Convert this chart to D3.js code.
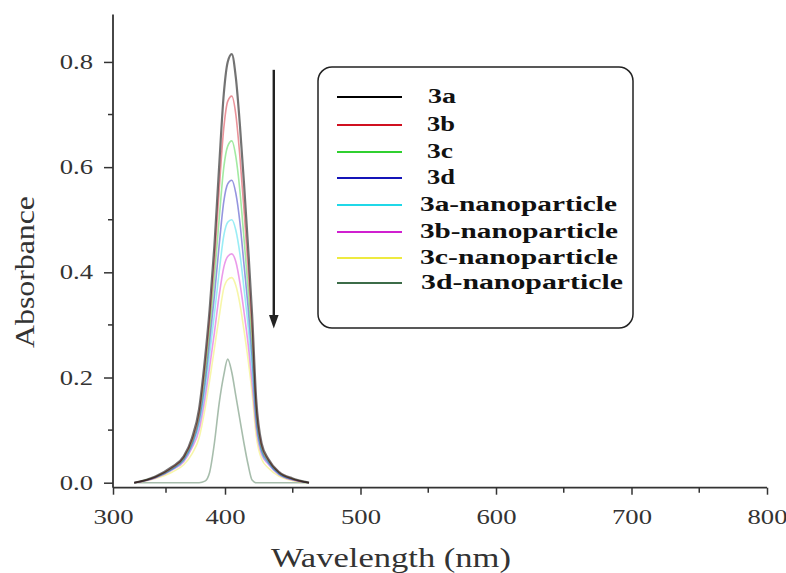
<!DOCTYPE html>
<html>
<head>
<meta charset="utf-8">
<script src="https://cdn.jsdelivr.net/npm/d3@7"></script>
<style>
  body { margin: 0; background: #fff; }
  svg { display: block; }
  text { font-family: "Liberation Serif", "Times New Roman", serif; }
</style>
</head>
<body>
<div id="chart"></div>
<script>
// wavelength grid (nm) shared by all spectra
var wavelength = [320, 340, 355, 365, 372, 378, 383, 387, 391, 395, 399, 402, 405, 408, 411, 414, 417, 420, 423, 427, 432, 440, 450, 462];

// absorbance
var abs3a  = [0, 0.012, 0.030, 0.050, 0.085, 0.140, 0.235, 0.330, 0.450, 0.600, 0.740, 0.800, 0.815, 0.770, 0.680, 0.570, 0.450, 0.320, 0.160, 0.075, 0.045, 0.020, 0.008, 0];
var abs3b  = [0, 0.011, 0.028, 0.048, 0.080, 0.130, 0.220, 0.310, 0.420, 0.555, 0.675, 0.725, 0.735, 0.700, 0.620, 0.520, 0.410, 0.290, 0.145, 0.070, 0.043, 0.019, 0.007, 0];
var abs3c  = [0, 0.011, 0.027, 0.046, 0.077, 0.125, 0.205, 0.290, 0.390, 0.500, 0.600, 0.640, 0.650, 0.620, 0.555, 0.465, 0.370, 0.265, 0.135, 0.066, 0.041, 0.018, 0.007, 0];
var abs3d  = [0, 0.010, 0.026, 0.044, 0.073, 0.118, 0.190, 0.270, 0.355, 0.450, 0.535, 0.568, 0.575, 0.550, 0.495, 0.415, 0.335, 0.240, 0.125, 0.062, 0.039, 0.017, 0.006, 0];
var abs3aN = [0, 0.010, 0.025, 0.042, 0.070, 0.110, 0.175, 0.245, 0.320, 0.400, 0.470, 0.495, 0.500, 0.480, 0.435, 0.370, 0.300, 0.215, 0.115, 0.058, 0.037, 0.016, 0.006, 0];
var abs3bN = [0, 0.009, 0.024, 0.040, 0.066, 0.100, 0.160, 0.220, 0.285, 0.355, 0.410, 0.430, 0.435, 0.420, 0.380, 0.325, 0.265, 0.190, 0.105, 0.054, 0.035, 0.015, 0.005, 0];
var abs3cN = [0, 0.008, 0.020, 0.034, 0.055, 0.085, 0.140, 0.195, 0.255, 0.315, 0.370, 0.386, 0.390, 0.375, 0.340, 0.290, 0.235, 0.170, 0.090, 0.045, 0.028, 0.012, 0.004, 0];
var abs3dN = [0, 0, 0, 0, 0, 0, 0.003, 0.020, 0.075, 0.150, 0.205, 0.235, 0.210, 0.165, 0.120, 0.075, 0.035, 0.005, 0, 0, 0, 0, 0, 0];

var seriesNames = ["3a", "3b", "3c", "3d", "3a-nanoparticle", "3b-nanoparticle", "3c-nanoparticle", "3d-nanoparticle"];
var seriesColors = ["#000000", "#d01020", "#30d030", "#1414b8", "#20d8e8", "#d020d0", "#eeea40", "#3c6c48"];
var seriesValues = [abs3a, abs3b, abs3c, abs3d, abs3aN, abs3bN, abs3cN, abs3dN];

var xMajor = [300, 400, 500, 600, 700, 800];
var xMinor = [350, 450, 550, 650, 750];
var yMajor = [0, 0.2, 0.4, 0.6, 0.8];
var yMinor = [0.1, 0.3, 0.5, 0.7];

var w = 786, h = 573;

var svg = d3.select("#chart").append("svg")
    .attr("width", w)
    .attr("height", h)

// the printed axis is not evenly spaced below 400 nm
var x = d3.scaleLinear().domain([300, 350, 400, 800]).range([113, 166, 225, 767]);
var y = d3.scaleLinear().domain([-0.0095, 0.89]).range([487.7, 14.6]);

var axisColor = "#333";

// curves
var line = d3.line()
    .x(function(d){ return x(d[0]) })
    .y(function(d){ return y(d[1]) })
    .curve(d3.curveMonotoneX);

for (var k = seriesValues.length - 1; k >= 0; k--){
    var pts = wavelength.map(function(wl, i){ return [wl, seriesValues[k][i]] });
    svg.append("path")
        .datum(pts)
        .attr("d", line)
        .attr("fill", "none")
        .attr("stroke", seriesColors[k])
        .attr("stroke-opacity", k == 0 ? 0.55 : 0.45)
        .attr("stroke-width", k == 0 ? 2.2 : 1.6);
}

// x axis
var xAxis = svg.append("g")
    .attr("transform", "translate(0," + y(-0.0095) + ")")
    .call(d3.axisBottom(x).tickValues(xMajor).tickSize(7).tickPadding(15).tickFormat(d3.format("d")));
xAxis.append("g").selectAll("line").data(xMinor).enter().append("line")
    .attr("x1", function(d){ return x(d) }).attr("x2", function(d){ return x(d) })
    .attr("y1", 0).attr("y2", 5)
    .attr("stroke", axisColor).attr("stroke-width", 1.5);

// y axis
var yAxis = svg.append("g")
    .attr("transform", "translate(" + x(300) + ",0)")
    .call(d3.axisLeft(y).tickValues(yMajor).tickSize(9).tickPadding(11).tickFormat(d3.format(".1f")));
yAxis.append("g").selectAll("line").data(yMinor).enter().append("line")
    .attr("y1", function(d){ return y(d) }).attr("y2", function(d){ return y(d) })
    .attr("x1", 0).attr("x2", -5)
    .attr("stroke", axisColor).attr("stroke-width", 1.5);

svg.selectAll(".domain").attr("stroke", axisColor).attr("stroke-width", 1.8);
svg.selectAll(".tick line").attr("stroke", axisColor).attr("stroke-width", 1.5);
svg.selectAll(".tick text")
    .attr("font-size", 20.5)
    .attr("fill", "#333")
    .each(function(){
        // the printed labels are stretched sideways
        var len = this.getComputedTextLength();
        d3.select(this).attr("textLength", len * 1.3).attr("lengthAdjust", "spacingAndGlyphs");
    });
xAxis.select(".domain").attr("d", "M" + x(300) + ",0H" + x(800));
yAxis.select(".domain").attr("d", "M0," + y(-0.0095) + "V" + y(0.89));

// axis titles
svg.append("text")
    .attr("x", 391)
    .attr("y", 567)
    .attr("text-anchor", "middle")
    .attr("font-size", 28)
    .attr("fill", "#333")
    .attr("textLength", 240)
    .attr("lengthAdjust", "spacingAndGlyphs")
    .text("Wavelength (nm)");

svg.append("text")
    .attr("transform", "translate(34,272) rotate(-90)")
    .attr("text-anchor", "middle")
    .attr("font-size", 28)
    .attr("fill", "#333")
    .attr("textLength", 152)
    .attr("lengthAdjust", "spacingAndGlyphs")
    .text("Absorbance");

// downward arrow
svg.append("defs").append("marker")
    .attr("id", "arrowhead")
    .attr("viewBox", "0 0 14 10")
    .attr("refX", 2).attr("refY", 5)
    .attr("markerUnits", "userSpaceOnUse")
    .attr("markerWidth", 14).attr("markerHeight", 10)
    .attr("orient", "auto")
    .append("path").attr("d", "M0,0L14,5L0,10Z").attr("fill", "#222");

svg.append("line")
    .attr("x1", x(436)).attr("x2", x(436))
    .attr("y1", y(0.785)).attr("y2", y(0.316))
    .attr("stroke", "#222")
    .attr("stroke-width", 2.4)
    .attr("marker-end", "url(#arrowhead)");

// legend
var legend = svg.append("g");
legend.append("rect")
    .attr("x", 318).attr("y", 67)
    .attr("width", 315).attr("height", 261)
    .attr("rx", 14).attr("ry", 14)
    .attr("fill", "#fff")
    .attr("stroke", "#222")
    .attr("stroke-width", 1.5);

var rowY = [97, 125, 152, 178, 205, 232, 258, 283];
var textX = [428, 427, 427, 427, 420, 420, 420, 421];
var textLen = [28, 28, 26, 28, 197, 198, 198, 202];

for (var i = 0; i < seriesNames.length; i++){
    legend.append("line")
        .attr("x1", 337).attr("x2", 402)
        .attr("y1", rowY[i]).attr("y2", rowY[i])
        .attr("stroke", seriesColors[i])
        .attr("stroke-width", 2);
    legend.append("text")
        .attr("x", textX[i])
        .attr("y", rowY[i] + 6)
        .attr("font-size", 20)
        .attr("font-weight", "bold")
        .attr("fill", "#111")
        .attr("textLength", textLen[i])
        .attr("lengthAdjust", "spacingAndGlyphs")
        .text(seriesNames[i]);
}
</script>
</body>
</html>
